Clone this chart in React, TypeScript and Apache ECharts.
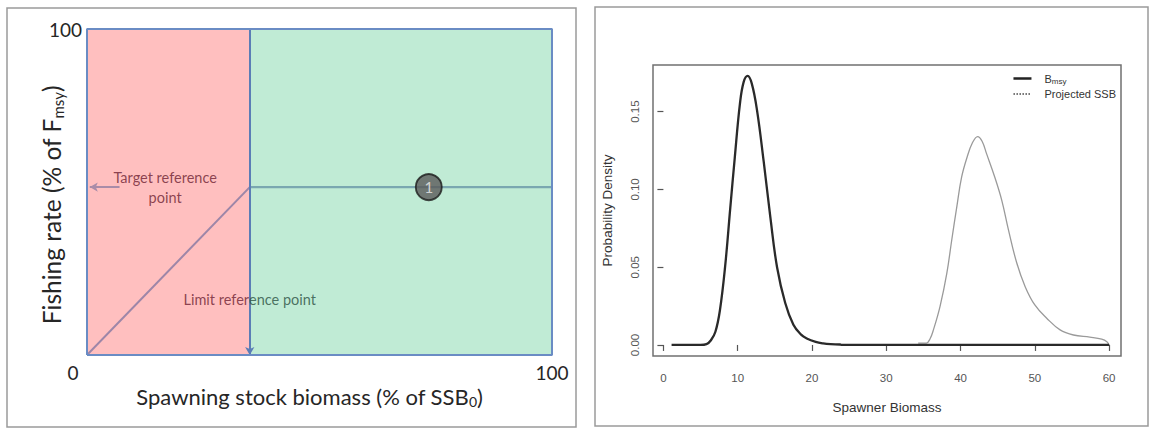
import React, { useEffect, useRef } from "react";
import * as echarts from "echarts";

// ---------- Left panel: harvest control rule ----------
const ssbPctRange = [0, 100];
const fPctRange = [0, 100];
const limitRefSSB = 35; // % of SSB0
const targetF = 51.5; // % of Fmsy
const hcrX = [0, limitRefSSB, 100];
const hcrY = [0, targetF, targetF];
const stateX = [73.5];
const stateY = [targetF];
const stateLabels = ["1"];

// ---------- Right panel: density curves ----------
const biomassTicks = [0, 10, 20, 30, 40, 50, 60];
const densityTicks = [0, 0.05, 0.1, 0.15];
const bmsyX = [1.1, 3, 5, 5.8, 6.4, 7.0, 7.6, 8.3, 9.0, 9.6, 10.3, 10.8, 11.35, 11.9, 12.6, 13.5, 14.4, 15.3, 16.4, 17.5, 18.5, 19.3, 20.5, 21.5, 22.5, 23.8, 24, 60];
const bmsyY = [0, 0, 0, 0.0005, 0.003, 0.0085, 0.022, 0.05, 0.088, 0.12, 0.155, 0.169, 0.173, 0.168, 0.151, 0.118, 0.082, 0.05, 0.027, 0.013, 0.0068, 0.0042, 0.002, 0.001, 0.0005, 0.0003, 0, 0];
const projX = [34.3, 35.4, 35.9, 36.35, 37.25, 38.15, 38.8, 39.5, 40.15, 40.9, 41.6, 42.3, 42.9, 43.5, 44.6, 45.55, 46.45, 47.55, 48.7, 50, 51.6, 53.4, 55.2, 57.4, 59, 59.7, 60];
const projY = [0.0012, 0.0012, 0.004, 0.0097, 0.025, 0.046, 0.067, 0.089, 0.108, 0.121, 0.13, 0.134, 0.131, 0.123, 0.108, 0.093, 0.074, 0.053, 0.0375, 0.0257, 0.0172, 0.0097, 0.0064, 0.005, 0.0037, 0.0021, 0];

const zip = (xs: number[], ys: number[]) => xs.map((x, i) => [x, ys[i]]);

const LEFT_FONT = "Lato, 'Open Sans', sans-serif";
const R_FONT = "'Liberation Sans', Arial, sans-serif";

export default function App() {
  const ref = useRef<HTMLDivElement>(null);
  useEffect(() => {
    document.body.style.margin = "0";
    if (!ref.current) return;
    const chart = echarts.init(ref.current, null, { renderer: "svg" });
    const option: any = {
      animation: false,
      backgroundColor: "#ffffff",
      graphic: [
        { type: "rect", shape: { x: 7, y: 8, width: 569, height: 419 }, style: { fill: "none", stroke: "#9a9a9a", lineWidth: 1.5 }, silent: true },
        { type: "rect", shape: { x: 595, y: 7, width: 553, height: 419 }, style: { fill: "none", stroke: "#9a9a9a", lineWidth: 1.5 }, silent: true },
      ],
      legend: {
        orient: "vertical",
        right: 30,
        top: 68,
        itemWidth: 18,
        itemHeight: 12,
        itemGap: 3,
        align: "left",
        inactiveColor: "#333",
        textStyle: {
          fontFamily: R_FONT,
          fontSize: 11,
          color: "#333",
          padding: [0, 0, 0, 8],
          rich: {
            sub: { fontFamily: R_FONT, fontSize: 8, color: "#333", padding: [6, 0, 0, 0] },
          },
        },
        formatter: (name: string) => (name === "Bmsy" ? "B{sub|msy}" : name),
        data: [
          { name: "Bmsy", itemStyle: { opacity: 0 }, lineStyle: { color: "#222", width: 2.5, type: "solid" } },
          { name: "Projected SSB", itemStyle: { opacity: 0 }, lineStyle: { color: "#444", width: 1.5, type: "dotted" } },
        ],
      },
      grid: [
        { left: 87, right: 599, top: 29, bottom: 74, show: false },
        { left: 653, right: 30, top: 65, bottom: 73, show: true, borderColor: "#707070", borderWidth: 1.5, backgroundColor: "transparent" },
      ],
      xAxis: [
        {
          gridIndex: 0,
          type: "value",
          min: ssbPctRange[0],
          max: ssbPctRange[1],
          interval: 100,
          splitLine: { show: false },
          axisLine: { show: false },
          axisTick: { show: false },
          axisLabel: {
            margin: 8,
            fontFamily: LEFT_FONT,
            fontSize: 19,
            color: "#262626",
            formatter: (v: number) => (v === 0 ? "{z|0}" : String(v)),
            rich: { z: { fontFamily: LEFT_FONT, fontSize: 19, color: "#262626", padding: [0, 28, 0, 0] } },
          },
          name: "Spawning stock biomass (% of SSB{sub|0})",
          nameLocation: "middle",
          nameMoveOverlap: false,
          nameGap: 29,
          nameTextStyle: {
            fontFamily: LEFT_FONT,
            fontSize: 22,
            color: "#262626",
            padding: [0, 20, 0, 0],
            rich: { sub: { fontFamily: LEFT_FONT, fontSize: 14, color: "#262626", padding: [10, 0, 0, 0] } },
          },
        },
        {
          gridIndex: 1,
          type: "value",
          min: -1.4,
          max: 61.6,
          splitLine: { show: false },
          axisLine: { show: false },
          axisTick: { show: true, length: 6, customValues: biomassTicks, lineStyle: { color: "#555", width: 1.2 } },
          axisLabel: { customValues: biomassTicks, margin: 16, fontFamily: R_FONT, fontSize: 11.5, color: "#555" },
          name: "Spawner Biomass",
          nameLocation: "middle",
          nameMoveOverlap: false,
          nameGap: 44,
          nameTextStyle: { fontFamily: R_FONT, fontSize: 13.5, color: "#333" },
        },
      ],
      yAxis: [
        {
          gridIndex: 0,
          type: "value",
          min: fPctRange[0],
          max: fPctRange[1],
          interval: 100,
          splitLine: { show: false },
          axisLine: { show: false },
          axisTick: { show: false },
          axisLabel: {
            margin: 5,
            fontFamily: LEFT_FONT,
            fontSize: 19,
            color: "#262626",
            formatter: (v: number) => (v === 100 ? "100" : ""),
          },
          name: "Fishing rate (% of F{sub|msy})",
          nameLocation: "middle",
          nameMoveOverlap: false,
          nameRotate: 90,
          nameGap: 22,
          nameTextStyle: {
            fontFamily: LEFT_FONT,
            fontSize: 24.5,
            color: "#262626",
            padding: [0, 26, 0, 0],
            rich: { sub: { fontFamily: LEFT_FONT, fontSize: 15, color: "#262626", padding: [12, 0, 0, 0] } },
          },
        },
        {
          gridIndex: 1,
          type: "value",
          min: -0.0071,
          max: 0.18,
          splitLine: { show: false },
          axisLine: { show: false },
          axisTick: { show: true, length: 6, customValues: densityTicks, lineStyle: { color: "#555", width: 1.2 } },
          axisLabel: {
            customValues: densityTicks,
            rotate: 90,
            margin: 12,
            fontFamily: R_FONT,
            fontSize: 11.5,
            color: "#555",
            formatter: (v: number) => v.toFixed(2),
          },
          name: "Probability Density",
          nameLocation: "middle",
          nameMoveOverlap: false,
          nameRotate: 90,
          nameGap: 39,
          nameTextStyle: { fontFamily: R_FONT, fontSize: 13.5, color: "#333" },
        },
      ],
      series: [
        {
          name: "zones",
          type: "line",
          xAxisIndex: 0,
          yAxisIndex: 0,
          data: [[0, 0]],
          symbol: "none",
          lineStyle: { opacity: 0 },
          silent: true,
          z: 1,
          markArea: {
            silent: true,
            data: [
              [{ xAxis: ssbPctRange[0], yAxis: fPctRange[0], itemStyle: { color: "#ffbfbf" } }, { xAxis: limitRefSSB, yAxis: fPctRange[1] }],
              [{ xAxis: limitRefSSB, yAxis: fPctRange[0], itemStyle: { color: "#c0ebd5" } }, { xAxis: ssbPctRange[1], yAxis: fPctRange[1] }],
            ],
          },
        },
        {
          name: "frame",
          type: "line",
          xAxisIndex: 0,
          yAxisIndex: 0,
          data: [[ssbPctRange[0], fPctRange[0]], [ssbPctRange[1], fPctRange[0]], [ssbPctRange[1], fPctRange[1]], [ssbPctRange[0], fPctRange[1]], [ssbPctRange[0], fPctRange[0]]],
          symbol: "none",
          clip: false,
          silent: true,
          lineStyle: { color: "#6a8cc4", width: 2 },
          z: 5,
        },
        {
          name: "hcrRamp",
          type: "line",
          xAxisIndex: 0,
          yAxisIndex: 0,
          data: zip(hcrX.slice(0, 2), hcrY.slice(0, 2)),
          symbol: "none",
          silent: true,
          lineStyle: { color: "#9d86a8", width: 2 },
          z: 3,
        },
        {
          name: "hcrPlateau",
          type: "line",
          xAxisIndex: 0,
          yAxisIndex: 0,
          data: zip(hcrX.slice(1), hcrY.slice(1)),
          symbol: "none",
          silent: true,
          lineStyle: { color: "#7aa7b0", width: 2.4 },
          z: 3,
        },
        {
          name: "arrows",
          type: "line",
          xAxisIndex: 0,
          yAxisIndex: 0,
          data: [[0, 0]],
          symbol: "none",
          lineStyle: { opacity: 0 },
          silent: true,
          z: 4,
          markLine: {
            silent: true,
            symbol: ["none", "arrow"],
            symbolSize: [7, 8],
            label: { show: false },
            data: [
              [{ coord: [limitRefSSB, fPctRange[1]], lineStyle: { color: "#5b7db6", width: 2, type: "solid" } }, { coord: [limitRefSSB, fPctRange[0]] }],
              [{ coord: [7, targetF], lineStyle: { color: "#a98ca8", width: 2, type: "solid" } }, { coord: [0.6, targetF] }],
            ],
          },
        },
        {
          name: "notes",
          type: "scatter",
          xAxisIndex: 0,
          yAxisIndex: 0,
          symbolSize: 0,
          silent: true,
          z: 6,
          data: [
            {
              value: [16.8, targetF],
              label: {
                show: true,
                position: "inside",
                formatter: "Target reference\npoint",
                fontFamily: LEFT_FONT,
                fontSize: 14.5,
                lineHeight: 20,
                color: "#6e1f33",
                align: "center",
              },
            },
            {
              value: [limitRefSSB, 16.9],
              label: {
                show: true,
                position: "inside",
                formatter: "{a|Limit refer}{b|ence point}",
                rich: {
                  a: { fontFamily: LEFT_FONT, fontSize: 14.5, color: "#6e1f33" },
                  b: { fontFamily: LEFT_FONT, fontSize: 14.5, color: "#2c5143" },
                },
              },
            },
          ],
        },
        {
          name: "state",
          type: "scatter",
          xAxisIndex: 0,
          yAxisIndex: 0,
          data: zip(stateX, stateY),
          symbol: "circle",
          symbolSize: 26,
          silent: true,
          z: 7,
          itemStyle: { color: "#5a5a5a", borderColor: "#1a1a1a", borderWidth: 1.8 },
          label: {
            show: true,
            position: "inside",
            formatter: (p: any) => stateLabels[p.dataIndex],
            fontFamily: LEFT_FONT,
            fontSize: 15,
            color: "#eeeeee",
          },
        },
        {
          name: "Projected SSB",
          type: "line",
          xAxisIndex: 1,
          yAxisIndex: 1,
          data: zip(projX, projY),
          symbol: "none",
          smooth: 0.4,
          silent: true,
          color: "#9a9a9a",
          lineStyle: { color: "#9a9a9a", width: 1.3 },
          z: 3,
        },
        {
          name: "Bmsy",
          type: "line",
          xAxisIndex: 1,
          yAxisIndex: 1,
          data: zip(bmsyX, bmsyY),
          symbol: "none",
          smooth: 0.4,
          silent: true,
          color: "#2a2a2a",
          lineStyle: { color: "#2a2a2a", width: 2.3 },
          z: 4,
        },
      ],
    };
    chart.setOption(option);
    return () => chart.dispose();
  }, []);
  return <div ref={ref} style={{ width: 1151, height: 429 }} />;
}
